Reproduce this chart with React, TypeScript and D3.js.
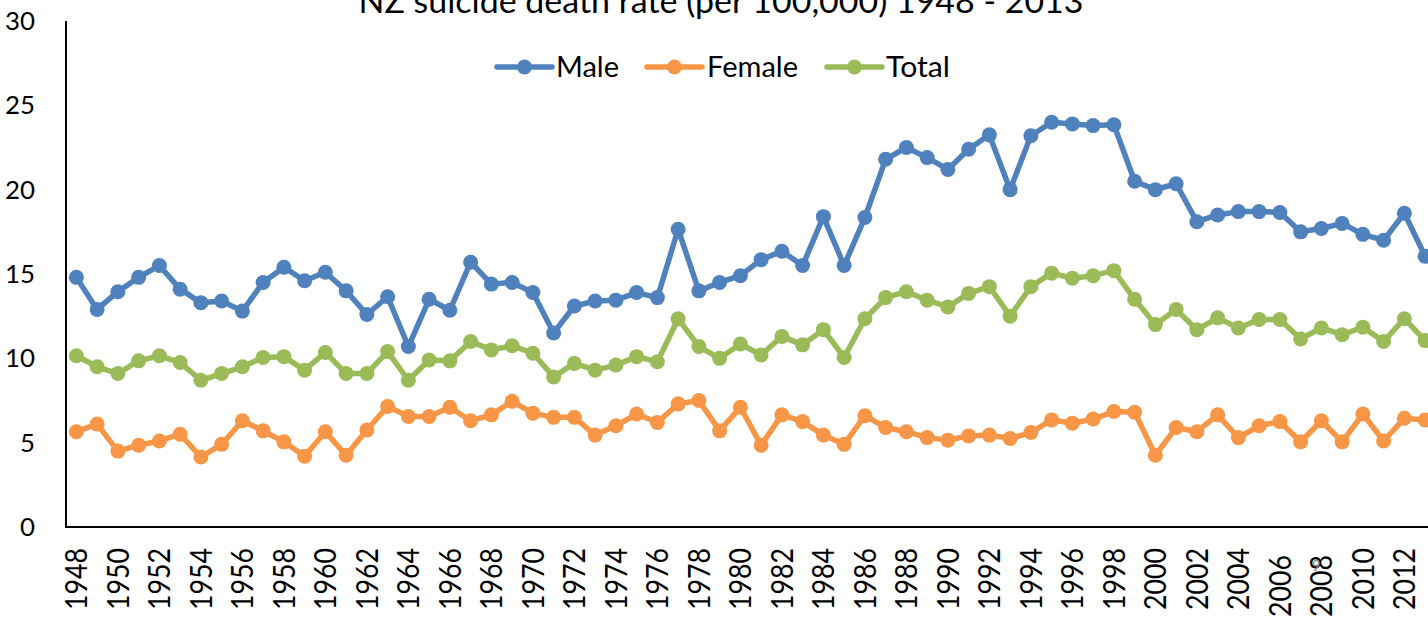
import React from "react";
import * as d3 from "d3";

const years: string[] = [];
for (let y = 1948; y <= 2013; y++) years.push(String(y));

const male = [
  14.8, 12.9, 13.95, 14.8, 15.5, 14.1, 13.3, 13.4, 12.8, 14.5,
  15.4, 14.6, 15.1, 14.0, 12.6, 13.65, 10.7, 13.5, 12.85, 15.7,
  14.4, 14.5, 13.9, 11.5, 13.1, 13.4, 13.45, 13.9, 13.6, 17.65,
  14.0, 14.5, 14.9, 15.85, 16.35, 15.5, 18.4, 15.5, 18.35, 21.8,
  22.5, 21.9, 21.2, 22.4, 23.25, 20.0, 23.2, 24.0, 23.9, 23.8,
  23.85, 20.5, 20.0, 20.35, 18.1, 18.5, 18.7, 18.7, 18.65, 17.5,
  17.7, 18.0, 17.35, 17.0, 18.6, 16.05,
];

const female = [
  5.65, 6.1, 4.5, 4.85, 5.1, 5.5, 4.15, 4.9, 6.3, 5.7,
  5.05, 4.2, 5.65, 4.25, 5.75, 7.15, 6.55, 6.55, 7.1, 6.3,
  6.65, 7.45, 6.75, 6.5, 6.5, 5.45, 6.0, 6.7, 6.2, 7.3,
  7.5, 5.7, 7.1, 4.85, 6.65, 6.25, 5.45, 4.9, 6.6, 5.9,
  5.65, 5.3, 5.15, 5.4, 5.45, 5.25, 5.6, 6.35, 6.15, 6.4,
  6.85, 6.8, 4.25, 5.9, 5.65, 6.65, 5.3, 6.0, 6.25, 5.05,
  6.3, 5.05, 6.7, 5.1, 6.45, 6.35,
];

const total = [
  10.15, 9.5, 9.1, 9.85, 10.15, 9.75, 8.7, 9.1, 9.5, 10.05,
  10.1, 9.3, 10.35, 9.1, 9.1, 10.4, 8.7, 9.9, 9.85, 11.0,
  10.5, 10.75, 10.3, 8.9, 9.7, 9.3, 9.6, 10.1, 9.8, 12.35,
  10.7, 10.0, 10.85, 10.2, 11.3, 10.8, 11.7, 10.05, 12.35, 13.6,
  13.95, 13.45, 13.05, 13.85, 14.25, 12.5, 14.25, 15.05, 14.75, 14.9,
  15.2, 13.5, 12.0, 12.9, 11.7, 12.4, 11.8, 12.3, 12.3, 11.15,
  11.8, 11.4, 11.85, 11.0, 12.35, 11.05,
];

const seriesNames = ["Male", "Female", "Total"];
const seriesColors = ["#4F81BD", "#F79646", "#9BBB59"];
const seriesValues = [male, female, total];

const yTicks = [0, 5, 10, 15, 20, 25, 30];
const xTickLabels = years.filter((_, i) => i % 2 === 0 && i < 65);
const shiftedTickLabels = ["2006", "2008"];

const title = "NZ suicide death rate (per 100,000) 1948 - 2013";

const W = 1428;
const H = 620;
const FONT = "Lato, 'Open Sans', sans-serif";

export default function App() {
  const x = d3.scalePoint<string>().domain(years).range([66, 1435.5]).padding(0.5);
  const y = d3.scaleLinear().domain([0, 30]).range([527, 21]);
  const line = d3
    .line<number>()
    .x((_, i) => x(years[i]) as number)
    .y((d) => y(d));

  const legendItems = [
    { lx: 497, tx: 556, tw: 63 },
    { lx: 647, tx: 707, tw: 91 },
    { lx: 827, tx: 886, tw: 64 },
  ];

  return (
    <svg
      width={W}
      height={H}
      style={{ position: "absolute", left: 0, top: 0, background: "#fff" }}
      fontFamily={FONT}
    >
      <rect x={0} y={0} width={W} height={H} fill="#fff" />
      <text
        x={721}
        y={13}
        textAnchor="middle"
        fontSize={32}
        fill="#000"
        textLength={725}
        lengthAdjust="spacingAndGlyphs"
      >
        {title}
      </text>

      {/* legend */}
      {seriesNames.map((name, i) => (
        <g key={name}>
          <line
            x1={legendItems[i].lx}
            x2={legendItems[i].lx + 55}
            y1={67}
            y2={67}
            stroke={seriesColors[i]}
            strokeWidth={5.5}
            strokeLinecap="round"
          />
          <circle cx={legendItems[i].lx + 27.5} cy={67} r={7.5} fill={seriesColors[i]} />
          <text
            x={legendItems[i].tx}
            y={76.5}
            fontSize={29}
            fill="#000"
            textLength={legendItems[i].tw}
            lengthAdjust="spacingAndGlyphs"
          >
            {name}
          </text>
        </g>
      ))}

      {/* y tick labels */}
      {yTicks.map((t) => (
        <text
          key={t}
          x={35}
          y={y(t)}
          dy="0.36em"
          textAnchor="end"
          fontSize={25}
          fill="#000"
          textLength={String(t).length * 15}
          lengthAdjust="spacingAndGlyphs"
        >
          {t}
        </text>
      ))}

      {/* axes */}
      <line x1={66} x2={66} y1={y(30)} y2={y(0)} stroke="#000" strokeWidth={2} />
      <line x1={65} x2={1440} y1={y(0)} y2={y(0)} stroke="#000" strokeWidth={2} />

      {/* x tick labels */}
      {xTickLabels.map((lab) => {
        const px = x(lab) as number;
        const py = shiftedTickLabels.includes(lab) ? 555 : 548;
        return (
          <text
            key={lab}
            transform={`translate(${px},${py}) rotate(-90)`}
            textAnchor="end"
            dy="0.36em"
            fontSize={30}
            fill="#000"
            textLength={62}
            lengthAdjust="spacingAndGlyphs"
          >
            {lab}
          </text>
        );
      })}
      <text x={1316} y={571} fontSize={15} fill="#888" textAnchor="middle">
        9
      </text>

      {/* series */}
      {seriesValues.map((vals, si) => (
        <g key={seriesNames[si]}>
          <path
            d={line(vals) || ""}
            fill="none"
            stroke={seriesColors[si]}
            strokeWidth={5.5}
            strokeLinejoin="round"
          />
          {vals.map((v, i) => (
            <circle key={i} cx={x(years[i]) as number} cy={y(v)} r={7.5} fill={seriesColors[si]} />
          ))}
        </g>
      ))}
    </svg>
  );
}
